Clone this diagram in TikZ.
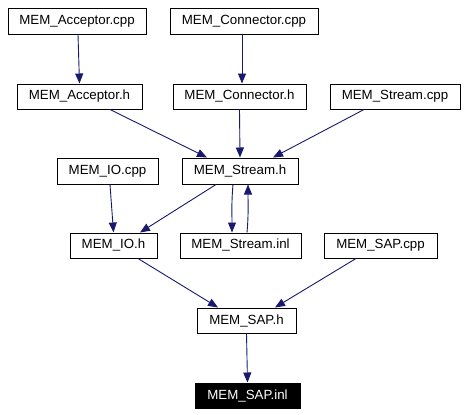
\documentclass[tikz,border=0pt]{standalone}
\usepackage{fontspec}
\setmainfont{Liberation Sans}
\usetikzlibrary{arrows.meta}
\definecolor{edgeblue}{HTML}{191970}
\begin{document}
\begin{tikzpicture}[x=1pt,y=-1pt,
  box/.style={draw=black,line width=1pt,rectangle,inner sep=0pt,minimum height=26pt,
    font=\fontsize{13.3}{16}\selectfont,text=black},
  hbox/.style={box,minimum height=25pt},
  cur/.style={hbox,fill=black,text=white,draw=black},
  dep/.style={draw=edgeblue,line width=0.9pt,-{Triangle[length=10pt,width=8pt]}}]
\useasboundingbox (0,0) rectangle (466,415);
\node[box,minimum width=138pt] (AccCpp) at (77,21) {MEM\_Acceptor.cpp};
\node[box,minimum width=148pt] (ConCpp) at (244,21) {MEM\_Connector.cpp};
\node[hbox,minimum width=125pt] (AccH) at (79.5,96.5) {MEM\_Acceptor.h};
\node[hbox,minimum width=133pt] (ConH) at (239.5,96.5) {MEM\_Connector.h};
\node[hbox,minimum width=130pt] (StrCpp) at (395,96.5) {MEM\_Stream.cpp};
\node[box,minimum width=101pt] (IOcpp) at (107.5,171) {MEM\_IO.cpp};
\node[box,minimum width=116pt] (StrH) at (240,171) {MEM\_Stream.h};
\node[hbox,minimum width=87pt] (IOh) at (113.5,245.5) {MEM\_IO.h};
\node[hbox,minimum width=121pt] (StrInl) at (240.5,245.5) {MEM\_Stream.inl};
\node[hbox,minimum width=113pt] (SAPcpp) at (380.5,245.5) {MEM\_SAP.cpp};
\node[hbox,minimum width=99pt] (SAPh) at (246.5,320.5) {MEM\_SAP.h};
\node[cur,minimum width=105pt] (SAPinl) at (247.5,395.5) {MEM\_SAP.inl};

\draw[dep] ([xshift=1pt]AccCpp.south) -- (AccH.north);
\draw[dep] ([xshift=-2pt]ConCpp.south) -- ([xshift=2.5pt]ConH.north);
\draw[dep] ([xshift=30.5pt]AccH.south) -- ([xshift=-33pt]StrH.north);
\draw[dep] (ConH.south) -- (StrH.north);
\draw[dep] ([xshift=-31pt]StrCpp.south) -- ([xshift=33pt]StrH.north);
\draw[dep] ([xshift=2.5pt]IOcpp.south) -- (IOh.north);
\draw[dep] ([xshift=-24pt]StrH.south) -- ([xshift=26.5pt]IOh.north);
\draw[dep] ([xshift=-7pt]StrH.south) to[out=-95,in=90] ([xshift=-8.5pt]StrInl.north);
\draw[dep] ([xshift=6.5pt]StrInl.north) to[out=85,in=-90] ([xshift=8pt]StrH.south);
\draw[dep] ([xshift=24.5pt]IOh.south) -- ([xshift=-28.5pt]SAPh.north);
\draw[dep] ([xshift=-24.5pt]SAPcpp.south) -- ([xshift=28.5pt]SAPh.north);
\draw[dep] (SAPh.south) -- (SAPinl.north);
\end{tikzpicture}
\end{document}
